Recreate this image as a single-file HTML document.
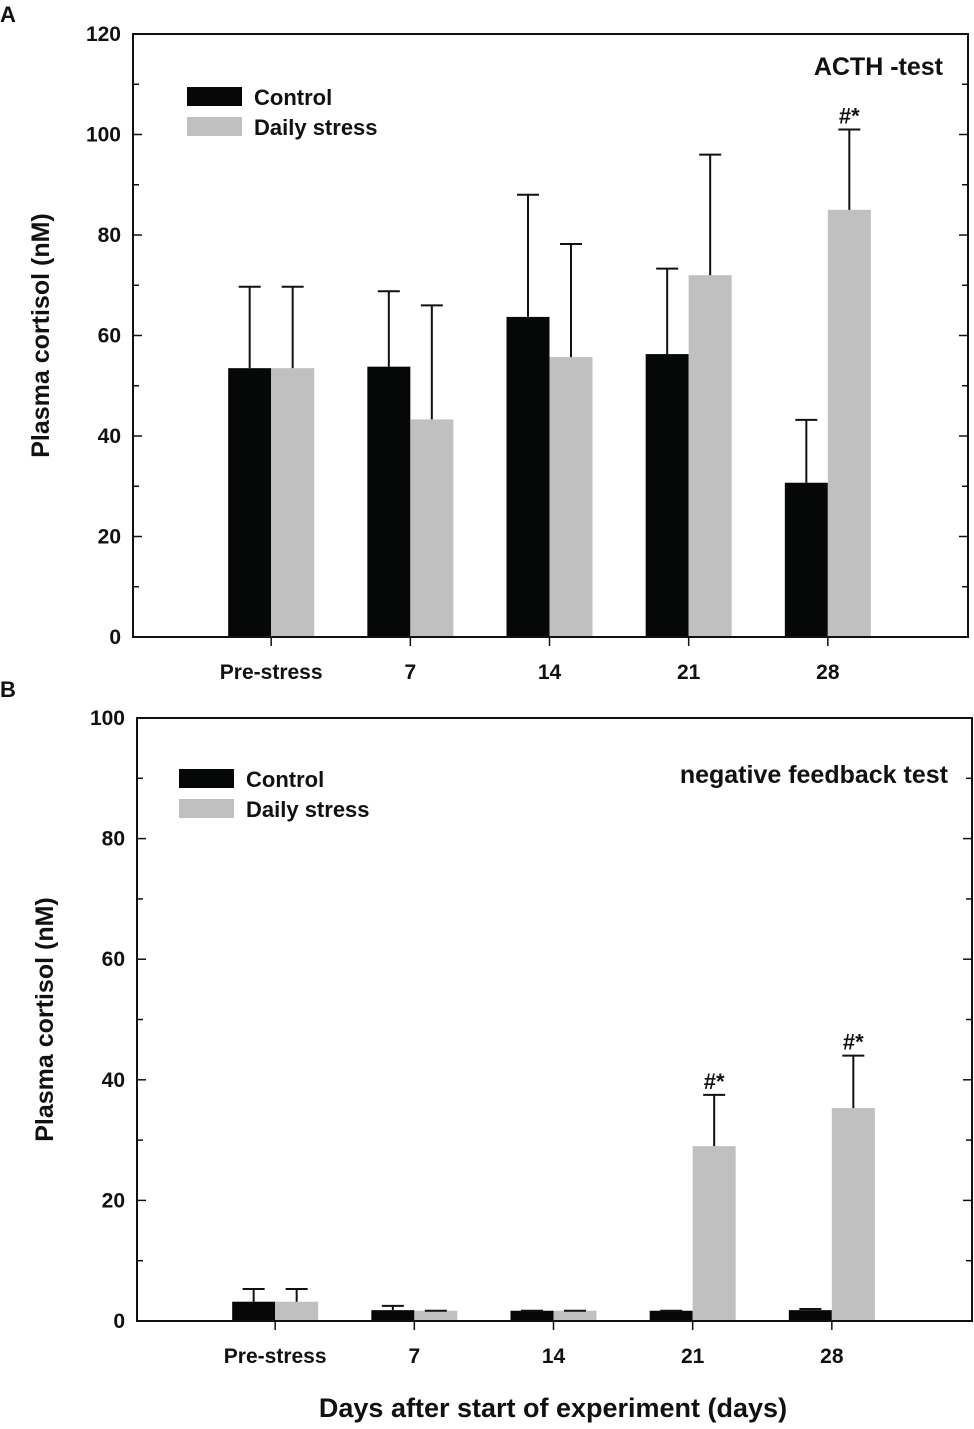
<!DOCTYPE html>
<html><head><meta charset="utf-8"><style>
body{margin:0;background:#fff}
svg text{font-family:"Liberation Sans",Arial,sans-serif;font-weight:bold;fill:#111}
</style></head><body>
<svg id="chart" width="974" height="1424" xmlns="http://www.w3.org/2000/svg"></svg>
<script>
const categories=["Pre-stress","7","14","21","28"];
const aControl=[53.5,53.8,63.7,56.3,30.7];
const aStress=[53.5,43.3,55.7,72,85];
const aControlErrTop=[69.7,68.8,88,73.3,43.2];
const aStressErrTop=[69.7,66,78.2,96,101];
const aSig=["","","","","#*"];
const bControl=[3.2,1.8,1.7,1.7,1.8];
const bStress=[3.2,1.7,1.7,29,35.3];
const bControlErrTop=[5.3,2.5,1.7,1.7,2.0];
const bStressErrTop=[5.3,1.7,1.7,37.5,44];
const bSig=["","","","#*","#*"];
const aTicks=[0,20,40,60,80,100,120];
const bTicks=[0,20,40,60,80,100];
const NS="http://www.w3.org/2000/svg";
const svg=document.getElementById('chart');
function mk(tag,attrs,parent){const e=document.createElementNS(NS,tag);for(const k in attrs)e.setAttribute(k,attrs[k]);(parent||svg).appendChild(e);return e;}
function panel(p){
  const g=mk('g',{});
  
  
  const y=v=>p.bottom-(v/p.max)*(p.bottom-p.top);
  const step=(p.right-p.left)/6;
  const xc=i=>p.left+step*(i+1)-p.shift;
  const bw=43;
  for(let i=0;i<categories.length;i++){
    [[p.ctrl,p.ctrlErr,'#060808',-1,'control'],[p.str,p.strErr,'#c0c0c0',0,'stress']].forEach(([vals,errs,col,off,nm])=>{
      const x0=xc(i)+off*bw;
      const r=mk('rect',{x:x0,y:y(vals[i]),width:bw,height:p.bottom-y(vals[i]),fill:col},g);
      
      
      const cx=x0+bw/2;
      const el=mk('path',{d:`M${cx},${y(vals[i])}V${y(errs[i])}M${cx-11},${y(errs[i])}H${cx+11}`,stroke:'#111','stroke-width':2,fill:'none'},g);
      
      
    });
    if(p.sig[i]){
      const t=mk('text',{x:xc(i)+bw/2,y:y(p.strErr[i])-6,'text-anchor':'middle','font-size':22},g);
      t.textContent=p.sig[i];
      
      
    }
    mk('line',{x1:xc(i),x2:xc(i),y1:p.bottom,y2:p.bottom+9,stroke:'#111','stroke-width':1.5},g);
    const lb=mk('text',{x:xc(i),y:p.bottom+42,'text-anchor':'middle','font-size':21},g);
    lb.textContent=categories[i];
    
    
  }
  const fr=mk('rect',{x:p.left,y:p.top,width:p.right-p.left,height:p.bottom-p.top,fill:'none',stroke:'#111','stroke-width':2},g);
  
  
  for(let v=0;v<=p.max;v+=10){
    const major=p.ticks.includes(v);const len=major?9:6;
    mk('line',{x1:p.left,x2:p.left+len,y1:y(v),y2:y(v),stroke:'#111','stroke-width':1.5},g);
    mk('line',{x1:p.right,x2:p.right-len,y1:y(v),y2:y(v),stroke:'#111','stroke-width':1.5},g);
  }
  p.ticks.forEach(v=>{
    const t=mk('text',{x:p.left-12,y:y(v)+7,'text-anchor':'end','font-size':21},g);
    t.textContent=v;
    
    
  });
  const yt=mk('text',{transform:`translate(${p.left-84},${(p.top+p.bottom)/2}) rotate(-90)`,'text-anchor':'middle','font-size':25},g);
  yt.textContent='Plasma cortisol (nM)';
  
  
  const lg=mk('g',{},g);
  
  
  mk('rect',{x:p.lx,y:p.ly,width:55,height:19,fill:'#060808'},lg);
  mk('rect',{x:p.lx,y:p.ly+30,width:55,height:19,fill:'#c0c0c0'},lg);
  let t=mk('text',{x:p.lx+67,y:p.ly+18,'font-size':22},lg);t.textContent='Control';
  t=mk('text',{x:p.lx+67,y:p.ly+48,'font-size':22},lg);t.textContent='Daily stress';
  const ti=mk('text',{x:p.tx,y:p.ty,'text-anchor':'end','font-size':25},g);
  ti.textContent=p.title;
  
  
  const pl=mk('text',{x:0,y:p.letterY,'font-size':22},g);
  pl.textContent=p.letter;
  
  
}
panel({name:'panel-a',left:133,right:968,top:34,bottom:637,max:120,ticks:aTicks,shift:1,ctrl:aControl,str:aStress,ctrlErr:aControlErrTop,strErr:aStressErrTop,sig:aSig,lx:187,ly:87,tx:943,ty:75,title:'ACTH -test',letter:'A',letterY:22});
panel({name:'panel-b',left:137,right:972,top:718,bottom:1321,max:100,ticks:bTicks,shift:1,ctrl:bControl,str:bStress,ctrlErr:bControlErrTop,strErr:bStressErrTop,sig:bSig,lx:179,ly:769,tx:948,ty:783,title:'negative feedback test',letter:'B',letterY:697});
const xt=mk('text',{x:553,y:1417,'text-anchor':'middle','font-size':27});
xt.textContent='Days after start of experiment (days)';


</script>
</body></html>
